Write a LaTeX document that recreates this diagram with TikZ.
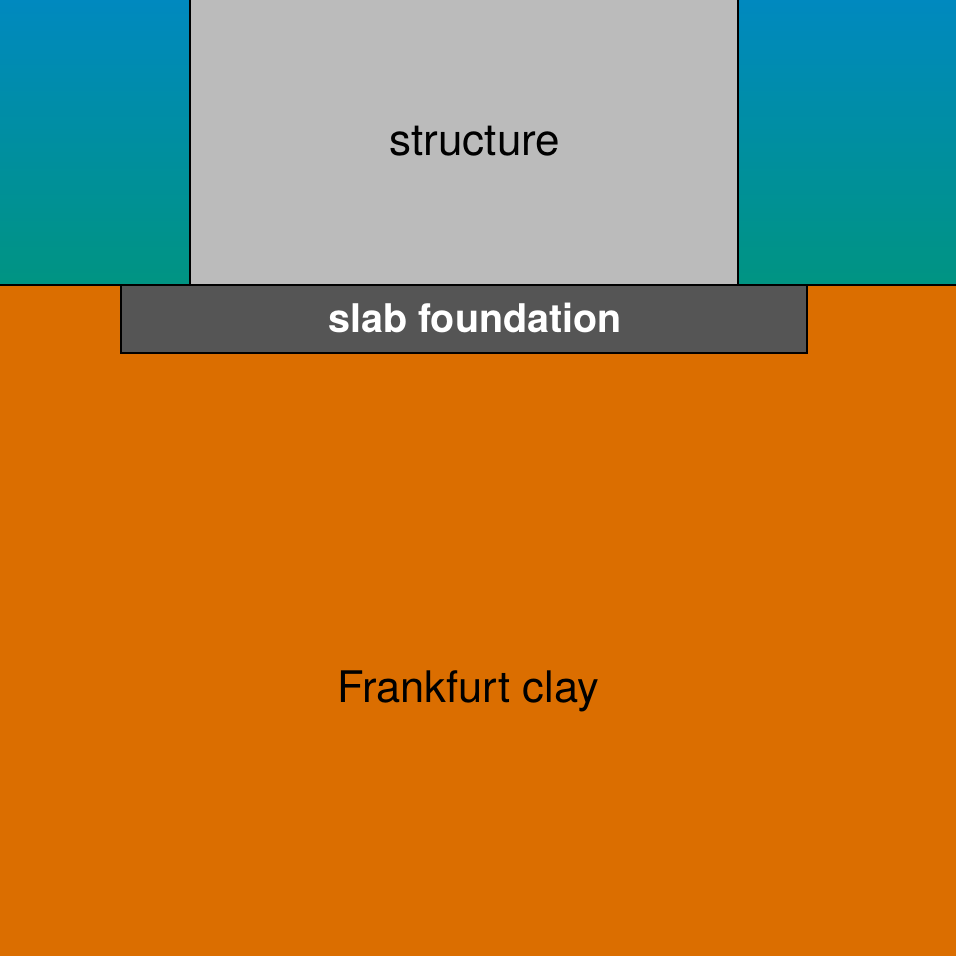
\documentclass[tikz,border=0pt]{standalone}
\usepackage{fontspec}
\setmainfont{TeX Gyre Heros}
\definecolor{skytop}{HTML}{0089BF}
\definecolor{skybot}{HTML}{009482}
\definecolor{clay}{HTML}{DB6E00}
\definecolor{struct}{HTML}{BBBBBB}
\definecolor{slab}{HTML}{555555}
\tikzset{
  outline/.style={draw=black, line width=1.6pt},
  lbl/.style={inner sep=0pt, text=black, font=\fontsize{44}{52}\selectfont},
}
\begin{document}
\begin{tikzpicture}[x=1pt,y=-1pt]
\useasboundingbox (0,0) rectangle (956,956);
% sky
\shade[top color=skytop, bottom color=skybot] (0,0) rectangle (956,285);
% clay
\fill[clay] (0,285) rectangle (956,956);
\draw[outline] (0,285) -- (956,285);
% structure
\filldraw[fill=struct, outline] (190,-5) rectangle (738,285);
% slab
\filldraw[fill=slab, outline] (121,285) rectangle (807,353);
\node[lbl] (structure) at (475,141) {structure};
\node[lbl, text=white, font=\fontsize{39.5}{46}\selectfont\bfseries] (slabtext) at (475,318) {slab foundation};
\node[lbl, font=\fontsize{43.5}{50}\selectfont] (claytext) at (468,691) {Frankfurt clay};
\end{tikzpicture}
\end{document}
